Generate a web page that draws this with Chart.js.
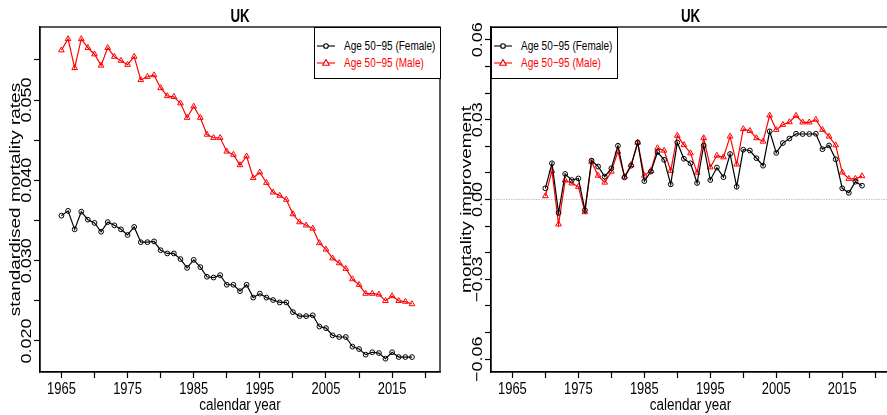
<!DOCTYPE html>
<html>
<head>
<meta charset="utf-8">
<title>UK mortality</title>
<script src="https://cdn.jsdelivr.net/npm/chart.js@4.4.1/dist/chart.umd.min.js"></script>
<style>
  html, body { margin: 0; padding: 0; background: #fff; overflow: hidden; width: 887px; height: 415px; }
  .panel { position: absolute; top: 0; height: 415px; }
  #leftPanel { left: 0; width: 445px; }
  #rightPanel { left: 445px; width: 450px; }
  .legend { position: absolute; box-sizing: border-box; width: 127px; height: 52px;
            border: 1.3px solid #000; background: #fff;
            font: 12.5px "Liberation Sans", Arial, sans-serif; }
  .legend .row { position: absolute; left: 1px; height: 14px; line-height: 14px; white-space: nowrap; }
  .legend canvas { position: absolute; left: 0; top: 1px; }
  .legend span { position: absolute; left: 28px; top: 0; display: inline-block;
                 transform: scaleX(0.8); transform-origin: 0 50%; }
</style>
</head>
<body>
<div class="panel" id="leftPanel"><canvas id="rateChart" width="445" height="415"></canvas></div>
<div class="panel" id="rightPanel"><canvas id="impChart" width="450" height="415"></canvas></div>
<script>
// calendar years
const years = [1965, 1966, 1967, 1968, 1969, 1970, 1971, 1972, 1973, 1974,
               1975, 1976, 1977, 1978, 1979, 1980, 1981, 1982, 1983, 1984,
               1985, 1986, 1987, 1988, 1989, 1990, 1991, 1992, 1993, 1994,
               1995, 1996, 1997, 1998, 1999, 2000, 2001, 2002, 2003, 2004,
               2005, 2006, 2007, 2008, 2009, 2010, 2011, 2012, 2013, 2014,
               2015, 2016, 2017, 2018];
const impYears = years.slice(5); // improvements start in 1970

// standardised mortality rates, age 50-95
const femaleRate = [0.0356, 0.0362, 0.0339, 0.0361, 0.0351, 0.0347, 0.0336, 0.0348, 0.0344, 0.0339,
                    0.0332, 0.0342, 0.0323, 0.0323, 0.0324, 0.0313, 0.0309, 0.0309, 0.0302, 0.0291,
                    0.0301, 0.0292, 0.0280, 0.0279, 0.0282, 0.0270, 0.0270, 0.0262, 0.0270, 0.0254,
                    0.0259, 0.0254, 0.0251, 0.0248, 0.0248, 0.0236, 0.0231, 0.0231, 0.0232, 0.0218,
                    0.0216, 0.0207, 0.0205, 0.0205, 0.0193, 0.0190, 0.0183, 0.0186, 0.0185, 0.0178,
                    0.0186, 0.0180, 0.0180, 0.0180];
const maleRate = [0.0562, 0.0576, 0.0540, 0.0576, 0.0565, 0.0557, 0.0543, 0.0565, 0.0554, 0.0549,
                  0.0544, 0.0554, 0.0525, 0.0529, 0.0531, 0.0515, 0.0505, 0.0504, 0.0496, 0.0478,
                  0.0492, 0.0478, 0.0457, 0.0453, 0.0453, 0.0436, 0.0432, 0.0419, 0.0430, 0.0403,
                  0.0410, 0.0397, 0.0385, 0.0381, 0.0376, 0.0358, 0.0348, 0.0344, 0.0340, 0.0322,
                  0.0314, 0.0303, 0.0297, 0.0290, 0.0277, 0.0270, 0.0259, 0.0259, 0.0258, 0.0250,
                  0.0256, 0.0250, 0.0249, 0.0246];

// mortality improvement, 1970-2018
const femaleImp = [0.0042, 0.0136, -0.0050, 0.0096, 0.0073, 0.0079, -0.0040, 0.0146, 0.0124, 0.0086,
                   0.0117, 0.0202, 0.0083, 0.0127, 0.0214, 0.0069, 0.0105, 0.0178, 0.0149, 0.0057,
                   0.0214, 0.0153, 0.0136, 0.0062, 0.0203, 0.0073, 0.0120, 0.0084, 0.0171, 0.0048,
                   0.0187, 0.0184, 0.0155, 0.0127, 0.0256, 0.0175, 0.0212, 0.0229, 0.0247, 0.0246,
                   0.0246, 0.0247, 0.0189, 0.0203, 0.0151, 0.0042, 0.0025, 0.0067, 0.0052];
const maleImp = [0.0013, 0.0108, -0.0093, 0.0072, 0.0061, 0.0048, -0.0047, 0.0142, 0.0090, 0.0064,
                 0.0105, 0.0180, 0.0086, 0.0130, 0.0214, 0.0090, 0.0108, 0.0193, 0.0184, 0.0108,
                 0.0240, 0.0205, 0.0174, 0.0101, 0.0231, 0.0121, 0.0165, 0.0159, 0.0237, 0.0132,
                 0.0265, 0.0258, 0.0231, 0.0218, 0.0316, 0.0262, 0.0281, 0.0291, 0.0315, 0.0290,
                 0.0290, 0.0300, 0.0262, 0.0237, 0.0204, 0.0102, 0.0078, 0.0078, 0.0088];

// axis ticks and labels
const xTicks = [1965, 1970, 1975, 1980, 1985, 1990, 1995, 2000, 2005, 2010, 2015, 2020];
const xLabels = [1965, 1975, 1985, 1995, 2005, 2015];
const rateTicks = [0.020, 0.025, 0.030, 0.035, 0.040, 0.045, 0.050, 0.055];
const rateLabels = [0.020, 0.030, 0.040, 0.050];
const impTicks = [-0.06, -0.05, -0.04, -0.03, -0.02, -0.01, 0, 0.01, 0.02, 0.03, 0.04, 0.05, 0.06];
const impLabels = [-0.06, -0.03, 0, 0.03, 0.06];

const panelTitle = 'UK';
const xTitle = 'calendar year';
const femaleLabel = 'Age 50\u221295 (Female)';
const maleLabel = 'Age 50\u221295 (Male)';

const sans = '"Liberation Sans", Arial, sans-serif';

function toPoints(xs, ys) {
    return xs.map((x, i) => ({ x: x, y: ys[i] }));
}

// draw a text squeezed a little (the R output looks condensed)
function squeezedText(ctx, text, x, y, rot, sx, sy) {
    ctx.save();
    ctx.translate(x, y);
    if (rot) ctx.rotate(rot);
    ctx.scale(sx, sy);
    ctx.fillText(text, 0, 0);
    ctx.restore();
}

// box round the plot, texts in R style, optional zero line
function framePlugin(opt) {
    return {
        id: 'frame',
        beforeDatasetsDraw(chart) {
            if (!opt.zeroLine) return;
            const { ctx, chartArea: a, scales: { y } } = chart;
            const py = y.getPixelForValue(0);
            ctx.save();
            ctx.strokeStyle = '#c4c4c4';
            ctx.lineWidth = 1;
            ctx.setLineDash([1.5, 1]);
            ctx.beginPath();
            ctx.moveTo(a.left, py);
            ctx.lineTo(a.right, py);
            ctx.stroke();
            ctx.restore();
        },
        afterDraw(chart) {
            const { ctx, chartArea: a, scales: { x, y } } = chart;
            ctx.save();
            ctx.strokeStyle = '#000';
            ctx.lineWidth = 1.3;
            ctx.strokeRect(a.left, a.top, a.right - a.left, a.bottom - a.top);
            ctx.fillStyle = '#000';
            ctx.textAlign = 'center';

            // title
            ctx.textBaseline = 'alphabetic';
            ctx.font = 'bold 18px ' + sans;
            squeezedText(ctx, panelTitle, (a.left + a.right) / 2, 21.5, 0, 0.74, 1);

            // x tick labels and x title
            ctx.font = '16px ' + sans;
            xLabels.forEach(v => {
                squeezedText(ctx, String(v), x.getPixelForValue(v), 393.8, 0, 0.81, 1);
            });
            squeezedText(ctx, xTitle, (a.left + a.right) / 2, 409.5, 0, 0.84, 1);

            // y tick labels, rotated
            ctx.textBaseline = 'middle';
            ctx.font = '18px ' + sans;
            opt.yLabels.forEach(v => {
                const txt = v.toFixed(opt.digits).replace('-', '\u2212');
                squeezedText(ctx, txt, a.left - 13.5, y.getPixelForValue(v), -Math.PI / 2, 1, 0.85);
            });

            // y title, rotated
            ctx.font = '19px ' + sans;
            squeezedText(ctx, opt.yTitle, a.left - 24.5, (a.top + a.bottom) / 2, -Math.PI / 2, 1, 0.8);
            ctx.restore();
        }
    };
}

function makePanel(canvasId, opt) {
    const ctx = document.getElementById(canvasId).getContext('2d');
    return new Chart(ctx, {
        type: 'line',
        data: {
            datasets: [
                {
                    label: femaleLabel,
                    data: toPoints(opt.xs, opt.female),
                    borderColor: '#000',
                    borderWidth: 1.2,
                    pointStyle: 'circle',
                    pointRadius: 2.4,
                    pointBorderWidth: 1,
                    pointBorderColor: '#000',
                    pointBackgroundColor: 'rgba(0,0,0,0)',
                    tension: 0
                },
                {
                    label: maleLabel,
                    data: toPoints(opt.xs, opt.male),
                    borderColor: '#ff0000',
                    borderWidth: 1.2,
                    pointStyle: 'triangle',
                    pointRadius: 3.3,
                    pointBorderWidth: 1,
                    pointBorderColor: '#ff0000',
                    pointBackgroundColor: 'rgba(0,0,0,0)',
                    tension: 0
                }
            ]
        },
        options: {
            responsive: false,
            animation: false,
            layout: { padding: { left: 0, right: 4, top: 27, bottom: 0 } },
            plugins: {
                legend: { display: false },
                tooltip: { enabled: false },
                title: { display: false }
            },
            scales: {
                x: {
                    type: 'linear',
                    min: 1961.76,
                    max: 2022.24,
                    afterBuildTicks: s => { s.ticks = xTicks.map(v => ({ value: v })); },
                    afterFit: s => { s.height = 43; },
                    grid: { drawOnChartArea: false, drawTicks: true, tickLength: 6, tickColor: '#000', tickWidth: 1.2 },
                    border: { display: true, color: '#000', width: 1.3 },
                    ticks: { display: false },
                    title: { display: false }
                },
                y: {
                    type: 'linear',
                    min: opt.yMin,
                    max: opt.yMax,
                    afterBuildTicks: s => { s.ticks = opt.yTicks.map(v => ({ value: v })); },
                    afterFit: s => { s.width = opt.yWidth; },
                    grid: { drawOnChartArea: false, drawTicks: true, tickLength: 6, tickColor: '#000', tickWidth: 1.2 },
                    border: { display: true, color: '#000', width: 1.3 },
                    ticks: { display: false },
                    title: { display: false }
                }
            }
        },
        plugins: [framePlugin(opt)]
    });
}

// HTML legend built from the chart's datasets
function addLegend(chart, panelId, side) {
    const a = chart.chartArea;
    const box = document.createElement('div');
    box.className = 'legend';
    box.style.top = (a.top - 0.5) + 'px';
    if (side === 'right') box.style.left = (a.right - 127 + 0.5) + 'px';
    else box.style.left = (a.left - 0.5) + 'px';
    chart.data.datasets.forEach((ds, i) => {
        const row = document.createElement('div');
        row.className = 'row';
        row.style.top = (11 + i * 17) + 'px';
        const c = document.createElement('canvas');
        c.width = 20; c.height = 12;
        const g = c.getContext('2d');
        g.strokeStyle = ds.borderColor;
        g.lineWidth = 1.1;
        g.beginPath(); g.moveTo(1, 6); g.lineTo(19, 6); g.stroke();
        g.beginPath();
        if (ds.pointStyle === 'triangle') {
            g.moveTo(10, 2.6); g.lineTo(13.3, 8.3); g.lineTo(6.7, 8.3); g.closePath();
        } else {
            g.arc(10, 6, 2.3, 0, Math.PI * 2);
        }
        g.fillStyle = '#fff'; g.fill();
        g.stroke();
        const t = document.createElement('span');
        t.textContent = ds.label;
        t.style.color = ds.borderColor;
        row.appendChild(c);
        row.appendChild(t);
        box.appendChild(row);
    });
    document.getElementById(panelId).appendChild(box);
}

const rateChart = makePanel('rateChart', {
    xs: years, female: femaleRate, male: maleRate,
    yMin: 0.01614, yMax: 0.05909, yTicks: rateTicks, yLabels: rateLabels, digits: 3,
    yTitle: 'standardised mortality rates', yWidth: 40, zeroLine: false
});
addLegend(rateChart, 'leftPanel', 'right');

const impChart = makePanel('impChart', {
    xs: impYears, female: femaleImp, male: maleImp,
    yMin: -0.0648, yMax: 0.0648, yTicks: impTicks, yLabels: impLabels, digits: 2,
    yTitle: 'mortality improvement', yWidth: 46, zeroLine: true
});
addLegend(impChart, 'rightPanel', 'left');
</script>
</body>
</html>
